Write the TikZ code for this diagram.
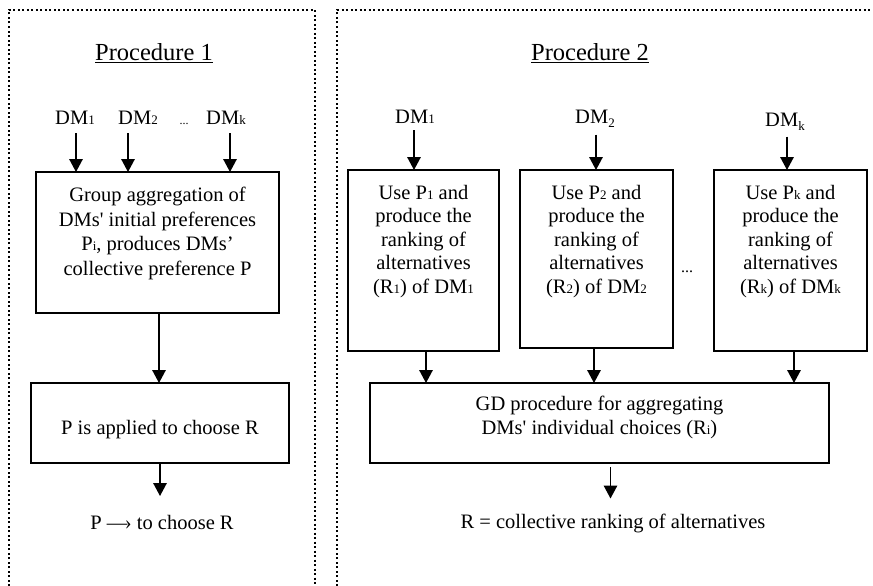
\documentclass[tikz,border=0pt]{standalone}
\usepackage{fontspec}
\setmainfont{Liberation Serif}
\usetikzlibrary{arrows.meta}
% small index set on the baseline, and a lowered subscript
\newcommand{\ix}[1]{{\fontsize{13}{13}\selectfont #1}}
\newcommand{\dn}[1]{\raisebox{-4.5pt}{\fontsize{13}{13}\selectfont #1}}
\newcommand{\sq}{\textquotesingle}

\begin{document}
\begin{tikzpicture}[x=1pt,y=-1pt,
  every node/.style={font=\fontsize{20.5}{24}\selectfont, inner sep=0pt, outer sep=0pt},
  txt/.style={align=center, anchor=base},
  box/.style={draw, line width=1.6pt, rectangle},
  frame/.style={line width=2pt, dash pattern=on 2pt off 2.5pt},
  arr/.style={line width=1.5pt, -{Triangle[length=13pt,width=13.5pt]}},
  title/.style={anchor=base, font=\fontsize{24.5}{27}\selectfont},
]
\useasboundingbox (0,0) rectangle (873,586);

% dotted frames of the two procedures
\draw[frame] (9,586) -- (9,10) -- (314.5,10) -- (314.5,586);
\draw[frame] (337,586) -- (337,10) -- (872,10);

% ---------------- Procedure 1 ----------------
\node[title] (t1) at (154,60) {Procedure 1};
\draw[line width=1.2pt] ([yshift=-2.5pt]t1.base west) -- ([yshift=-2.5pt]t1.base east);

\node[txt] (ldm1) at (75,124) {DM\ix{1}};
\node[txt] (ldm2) at (138,124) {DM\ix{2}};
\node[txt, font=\fontsize{12}{12}\selectfont] (ldots) at (184,124) {...};
\node[txt] (ldmk) at (226,124) {DM\ix{k}};

\node[box, minimum width=243, minimum height=141] (b1) at (157.5,242.5) {};
% multi-line texts are placed by the baseline of their last line
\node[txt, font=\fontsize{20.5}{24.4}\selectfont] (b1t) at (157.5,275) {Group aggregation of\\DMs\sq{} initial preferences\\P\ix{i}, produces DMs’\\collective preference P};

\node[box, minimum width=258, minimum height=80] (b2) at (160,423) {};
\node[txt] (b2t) at (160,434) {P is applied to choose R};

\node[txt] (res1) at (162,529) {P \textemdash\kern-0.12em› to choose R};

\draw[arr] ([shift={(1,9)}]ldm1.south) coordinate (a1) -- (a1 |- b1.north);
\draw[arr] ([shift={(-10,9)}]ldm2.south) coordinate (a2) -- (a2 |- b1.north);
\draw[arr] ([shift={(4,9)}]ldmk.south) coordinate (a3) -- (a3 |- b1.north);
\draw[arr] ([xshift=1.5pt]b1.south) coordinate (a4) -- (a4 |- b2.north);
\draw[arr] (b2.south) -- ++(0,33);

% ---------------- Procedure 2 ----------------
\node[title] (t2) at (590,60) {Procedure 2};
\draw[line width=1.2pt] ([yshift=-2.5pt]t2.base west) -- ([yshift=-2.5pt]t2.base east);

\node[txt] (rdm1) at (415,123) {DM\ix{1}};
\node[txt] (rdm2) at (595,123) {DM\dn{2}};
\node[txt] (rdmk) at (785,126) {DM\dn{k}};

\node[box, minimum width=151, minimum height=181] (bA) at (423.5,260.5) {};
\node[box, minimum width=153, minimum height=178] (bB) at (596.5,259) {};
\node[box, minimum width=153, minimum height=181] (bC) at (790.5,260.5) {};

\tikzset{five/.style={txt, font=\fontsize{20.5}{23.5}\selectfont}}
\node[five] (bAt) at (423.5,293) {Use P\ix{1} and\\produce the\\ranking of\\alternatives\\(R\ix{1}) of DM\ix{1}};
\node[five] (bBt) at (596.5,293) {Use P\ix{2} and\\produce the\\ranking of\\alternatives\\(R\ix{2}) of DM\ix{2}};
\node[five] (bCt) at (790.5,293) {Use P\ix{k} and\\produce the\\ranking of\\alternatives\\(R\ix{k}) of DM\ix{k}};
\node[txt, font=\fontsize{16}{16}\selectfont] (rdots) at (687,272) {...};

\node[box, minimum width=459, minimum height=80] (gd) at (599.5,423) {};
\node[txt] (gdt) at (599.5,434) {GD procedure for aggregating\\DMs\sq{} individual choices (R\ix{i})};

\node[txt] (res2) at (613,528) {R = collective ranking of alternatives};

\draw[arr] ([shift={(-1,7)}]rdm1.south) coordinate (c1) -- (c1 |- bA.north);
\draw[arr] ([shift={(1,7)}]rdm2.south) coordinate (c2) -- (c2 |- bB.north);
\draw[arr] ([shift={(2,6)}]rdmk.south) coordinate (c3) -- (c3 |- bC.north);

\draw[arr] ([xshift=2.5pt]bA.south) coordinate (d1) -- (d1 |- gd.north);
\draw[arr] ([xshift=-2.5pt]bB.south) coordinate (d2) -- (d2 |- gd.north);
\draw[arr] ([xshift=3.5pt]bC.south) coordinate (d3) -- (d3 |- gd.north);
\draw[arr] ([shift={(11,4)}]gd.south) -- ++(0,31.5);
\end{tikzpicture}
\end{document}
